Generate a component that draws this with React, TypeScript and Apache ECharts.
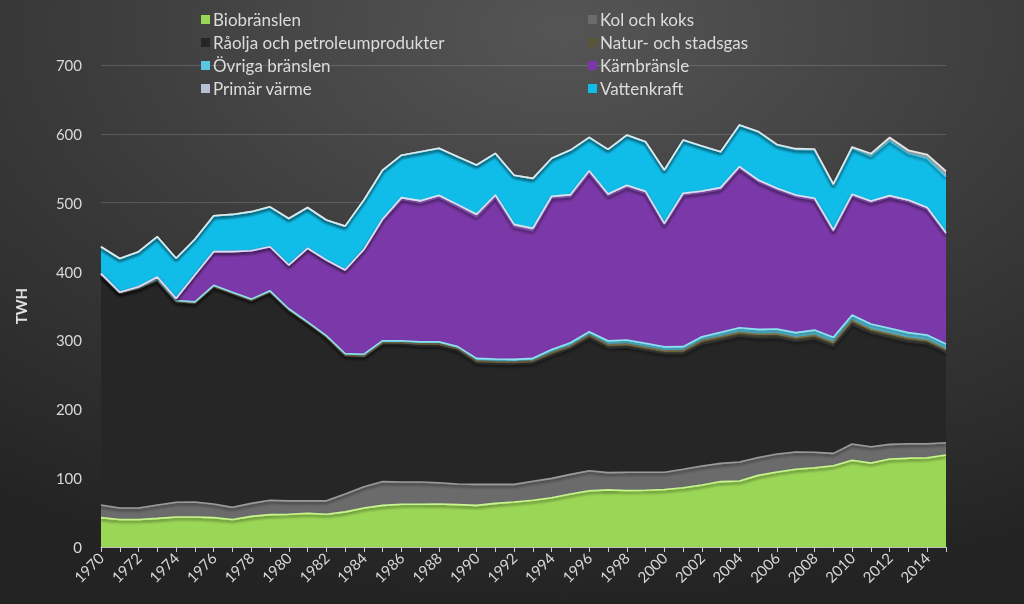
import React, { useEffect, useRef } from "react";
import * as echarts from "echarts";

const years: string[] = [
  "1970","1971","1972","1973","1974","1975","1976","1977","1978","1979",
  "1980","1981","1982","1983","1984","1985","1986","1987","1988","1989",
  "1990","1991","1992","1993","1994","1995","1996","1997","1998","1999",
  "2000","2001","2002","2003","2004","2005","2006","2007","2008","2009",
  "2010","2011","2012","2013","2014","2015",
];

const biobranslen = [
  42.6, 40, 40, 41.6, 43.6, 43.6, 42.6, 40, 44.5, 47,
  47.5, 49, 47.5, 51, 56.6, 60.5, 62, 62, 62.5, 61.5,
  60.5, 63.4, 65.3, 68, 71.6, 77, 81.8, 83, 82, 82.5,
  83.5, 86, 90, 95, 95.8, 104, 109, 113, 115, 118,
  126, 122, 127.7, 129, 129.7, 133.6,
];
const kolOchKoks = [
  18.4, 16.6, 16.6, 19.4, 21.4, 21.7, 19.9, 17.6, 18.9, 21,
  19.5, 18, 19.5, 26, 31, 34.5, 32.4, 32.4, 30.9, 30,
  30.5, 27.6, 25.7, 27.4, 28.1, 28.5, 29, 25, 26.5, 26,
  25, 27, 27.6, 26.5, 27.6, 26, 26, 25, 22.5, 18,
  23.6, 23.7, 21.3, 21, 20.3, 17.9,
];
const raolja = [
  333.5, 310.9, 317.9, 325.5, 290.5, 288.2, 315, 309.9, 294.1, 301.5,
  276.5, 257.5, 237.5, 200.5, 188.4, 200.1, 200.2, 198.1, 198.6, 193.5,
  176, 175, 174.5, 171.6, 178.8, 182.7, 192.9, 181.6, 182.1, 177.3,
  172.4, 168, 177.3, 178.8, 183.1, 174, 169.5, 160.8, 165, 156,
  173.4, 165.1, 155.6, 148.3, 145.4, 131,
];
const naturgas = [
  1, 1, 1, 1, 1, 1, 1, 1, 1, 1,
  1, 1, 1, 1, 1, 1.5, 2, 2.5, 3, 3,
  3, 3, 3, 3, 3.5, 3.5, 4, 4, 4, 4,
  4, 4, 4.5, 5, 5, 5, 5, 5, 5, 5,
  6, 5, 5, 5, 4.5, 4.5,
];
const ovrigaBranslen = [
  1.5, 1.5, 1.5, 1.5, 1.5, 1.5, 1.5, 1.5, 1.5, 1.5,
  1.5, 1.5, 1.5, 2.5, 3, 3, 3, 3, 3, 3,
  4, 4, 4, 4, 5, 5, 5, 6, 6, 6,
  6, 6, 6, 6.5, 7, 7, 7, 7.5, 7.5, 7.5,
  8, 8, 8, 8, 8, 8,
];
const karnbransle = [
  0, 0, 1, 3, 3, 39, 48.9, 58.9, 70.3, 64,
  63.5, 106.8, 109.8, 121.3, 152, 175.3, 205.3, 202, 209.8, 203.2,
  205.7, 234.8, 192.5, 185.4, 219.4, 212, 230.9, 210.1, 221.7, 217.8,
  176.7, 220.2, 209.1, 207.6, 231.5, 214.5, 202, 197.4, 189, 153.4,
  172.7, 176.2, 190.2, 190.2, 182.5, 159,
];
const primarVarme = [
  0, 0, 0, 0, 0, 0, 0, 0, 0, 0,
  0, 0, 0, 0, 0, 1.5, 2.5, 3, 3, 3,
  3.5, 3.5, 3.5, 3.5, 3, 3, 3, 3, 3, 3,
  2.5, 2.5, 2.5, 2.5, 2.5, 2.5, 2.5, 2.5, 2.5, 2.5,
  2.5, 2.5, 2.5, 2.5, 2.5, 2.5,
];
const vattenkraft = [
  39, 49, 50.9, 58.6, 58.3, 52, 52.1, 54.1, 56.7, 58,
  67.5, 59.2, 58.1, 63.7, 72, 71.1, 61.6, 71, 68.2, 69.6,
  71.6, 60.4, 71.5, 72.5, 55.1, 64.8, 48.4, 64.8, 73, 72,
  77.4, 77.3, 65.3, 52.1, 60.3, 70, 62.8, 66.3, 70, 65.3,
  66.8, 65.3, 79.7, 67.7, 71.6, 81.5,
];
// thin light band on top (no legend entry in the original)
const toppskikt = [
  0, 0, 0, 0, 0, 0, 0, 0, 0, 0,
  0, 0, 0, 0, 0, 0, 0, 0, 0, 0,
  0, 0, 0, 0, 0, 0, 0, 0, 0, 0,
  0, 0, 0, 0, 0, 0.5, 0.8, 1, 1.5, 1.5,
  2, 3.5, 5, 4.5, 5.5, 8,
];

const yTicks = [0, 100, 200, 300, 400, 500, 600, 700];

type S = { name: string; data: number[]; color: string; edge: string };
const seriesDefs: S[] = [
  { name: "Biobränslen", data: biobranslen, color: "#9bd756", edge: "#c9f58f" },
  { name: "Kol och koks", data: kolOchKoks, color: "#6b6b6b", edge: "#9a9a9a" },
  { name: "Råolja och petroleumprodukter", data: raolja, color: "#262626", edge: "#3a3a3a" },
  { name: "Natur- och stadsgas", data: naturgas, color: "#5c5638", edge: "#7d7650" },
  { name: "Övriga bränslen", data: ovrigaBranslen, color: "#58c6e0", edge: "#8fe0f0" },
  { name: "Kärnbränsle", data: karnbransle, color: "#7b38a8", edge: "#9e5fd0" },
  { name: "Primär värme", data: primarVarme, color: "#b8bfd6", edge: "#dde2f0" },
  { name: "Vattenkraft", data: vattenkraft, color: "#10bde9", edge: "#5fd8f7" },
  { name: "Toppskikt", data: toppskikt, color: "#c9c9c9", edge: "#e6e6e6" },
];

export default function App() {
  const ref = useRef<HTMLDivElement>(null);
  useEffect(() => {
    if (!ref.current) return;
    const chart = echarts.init(ref.current, undefined, { renderer: "svg" });
    const font = "Lato, 'Open Sans', sans-serif";
    const legendText = { color: "#dcdcdc", fontSize: 17, fontFamily: font, padding: [0, 0, 0, -2] };
    chart.setOption({
      animation: false,
      backgroundColor: {
        type: "radial",
        x: 0.55,
        y: 0.05,
        r: 0.95,
        colorStops: [
          { offset: 0, color: "#555555" },
          { offset: 0.55, color: "#393939" },
          { offset: 1, color: "#232323" },
        ],
      },
      legend: [
        {
          orient: "vertical",
          left: 196,
          top: 6,
          itemGap: 6,
          itemWidth: 9,
          itemHeight: 9,
          icon: "rect",
          textStyle: legendText,
          data: ["Biobränslen", "Råolja och petroleumprodukter", "Övriga bränslen", "Primär värme"],
        },
        {
          orient: "vertical",
          left: 583,
          top: 6,
          itemGap: 6,
          itemWidth: 9,
          itemHeight: 9,
          icon: "rect",
          textStyle: legendText,
          data: ["Kol och koks", "Natur- och stadsgas", "Kärnbränsle", "Vattenkraft"],
        },
      ],
      grid: { left: 101, right: 78, top: 65, bottom: 57, containLabel: false },
      xAxis: {
        type: "category",
        data: years,
        boundaryGap: false,
        axisLine: { show: true, lineStyle: { color: "#bdbdbd", width: 1 } },
        axisTick: { show: true, interval: 0, length: 5, lineStyle: { color: "#cfcfcf" } },
        axisLabel: {
          interval: 1,
          rotate: 45,
          color: "#d8d8d8",
          fontSize: 15,
          fontFamily: font,
          margin: 8,
        },
        splitLine: { show: false },
      },
      yAxis: {
        type: "value",
        min: 0,
        max: 700,
        interval: 100,
        name: "TWH",
        nameLocation: "middle",
        nameGap: 73,
        nameRotate: 90,
        nameTextStyle: { color: "#e0e0e0", fontSize: 15, fontWeight: "bold", fontFamily: font },
        axisLine: { show: false },
        axisTick: { show: false },
        axisLabel: {
          color: "#d8d8d8",
          fontSize: 15,
          fontFamily: font,
          margin: 19,
          formatter: (v: number) => (yTicks.includes(v) ? String(v) : ""),
        },
        splitLine: { show: true, lineStyle: { color: "rgba(200,200,200,0.22)", width: 1 } },
      },
      series: seriesDefs.map((s) => ({
        name: s.name,
        type: "line",
        stack: "total",
        data: s.data,
        symbol: "none",
        showSymbol: false,
        smooth: false,
        color: s.color,
        lineStyle: {
          color: s.edge,
          width: 1.6,
          shadowColor: "rgba(0,0,0,0.55)",
          shadowBlur: 3,
          shadowOffsetY: 2,
        },
        areaStyle: { color: s.color, opacity: 1 },
        emphasis: { disabled: true },
      })),
    });
    return () => chart.dispose();
  }, []);
  return (
    <div
      ref={ref}
      style={{ position: "fixed", left: 0, top: 0, width: 1024, height: 604 }}
    />
  );
}
